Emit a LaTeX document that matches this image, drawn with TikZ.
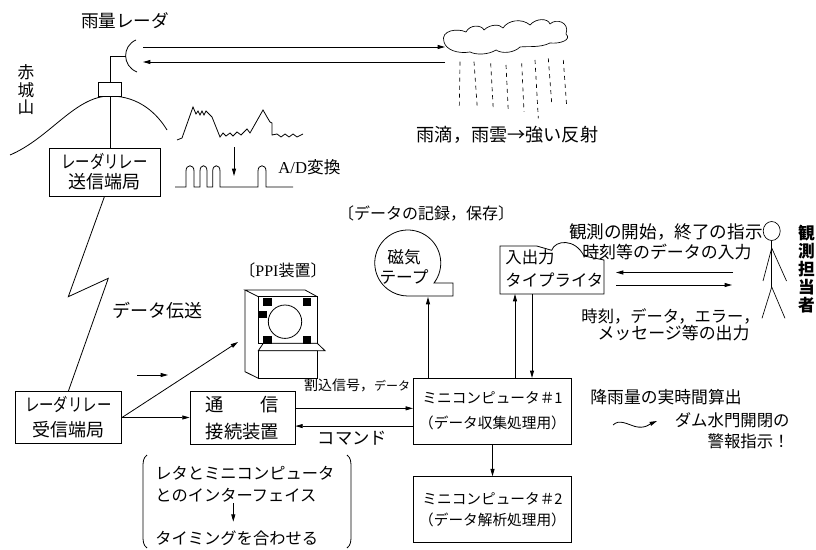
\documentclass[tikz,border=0pt]{standalone}
\usepackage{fontspec}
\usepackage{graphicx}
\setmainfont{Noto Sans CJK JP}
\newfontfamily\latin{Liberation Serif}
\usetikzlibrary{arrows.meta}
\newcommand\fsz[2]{\fontsize{#1pt}{#2pt}\selectfont}
\newcommand\narrow[1]{\scalebox{0.8}[1]{#1}}

\tikzset{
  every path/.style={line width=0.6pt},
  arr/.style={-{Triangle[length=5.5pt,width=3pt]}},
  box/.style={draw, line width=0.6pt, inner sep=0pt, align=center},
  lbl/.style={inner sep=0pt, align=center},
  lblw/.style={inner sep=0pt, anchor=west, align=left},
  lble/.style={inner sep=0pt, anchor=east, align=right},
  rain/.style={dash pattern=on 3pt off 3pt, line width=0.5pt},
  limb/.style={line width=0.5pt},
}

\begin{document}
\begin{tikzpicture}[x=0.75pt,y=-0.75pt]
\fill[white] (0,0) rectangle (816,549);
\useasboundingbox (0,0) rectangle (816,549);

% ---------- radar site on the mountain ----------
\node[lbl, font=\fsz{13.2}{14}] (radarlbl) at (125,21) {雨量レーダ};
\node[lbl, font=\fsz{12.5}{13.1}] (akagi) at (26,90) {赤\\城\\山};
\draw (10,155) .. controls (50,138) and (75,96) .. (110,96)
      .. controls (140,96) and (158,115) .. (167,130);
\node[draw, fill=white, minimum width=17.25pt, minimum height=10.5pt, inner sep=0pt] (rbox) at (110,89) {};
\coordinate (dish) at (125.6,56.5);
\draw (136,40) .. controls (122,46) and (122,66) .. (137,72);
\draw (rbox.north) |- (dish);

% beam to the cloud and echo back
\coordinate (beamA) at (143,47);
\coordinate (beamB) at (445,47);
\coordinate (echoA) at (445,62);
\coordinate (echoB) at (143,62);
\draw[arr] (beamA) -- (beamB);
\draw[arr] (echoA) -- (echoB);

% ---------- cloud and rain ----------
\draw[line width=0.5pt] (444,42) .. controls (440,30) and (458,28) .. (466,32)
  .. controls (470,24) and (482,25) .. (484,30)
  .. controls (490,24) and (500,24) .. (503,28)
  .. controls (508,20) and (522,18) .. (530,25)
  .. controls (536,18) and (548,18) .. (550,24)
  .. controls (556,18) and (570,22) .. (566,34)
  .. controls (572,40) and (560,44) .. (550,43)
  .. controls (540,48) and (528,46) .. (520,47)
  .. controls (514,53) and (502,54) .. (496,50)
  .. controls (488,55) and (476,55) .. (470,52)
  .. controls (458,54) and (446,50) .. (444,42) -- cycle;
\foreach \xa/\ya/\xb/\yb in {460/61.7/459.3/106.7, 474/61.7/477.3/108.3,
    490.7/63.3/493.3/110, 506/65/508.3/111.7, 521.7/63.3/524/111.7,
    535/60/538.3/118.3, 548.3/58.3/551.7/103.3, 563.3/60/566.7/106.7}
  \draw[rain] (\xa,\ya) -- (\xb,\yb);
\node[lbl, font=\fsz{13.6}{15}] (raintxt) at (507.5,135) {雨滴，雨雲→強い反射};

% ---------- transmitting relay station ----------
\node[box, minimum width=83.25pt, minimum height=36pt, font=\fsz{13.5}{15}] (tx) at (104.5,172)
  {\narrow{レーダリレー}\\送信端局};
\draw (rbox.south) -- (rbox.south |- tx.north);

% ---------- analog echo and A/D conversion ----------
\draw (177,140) -- (182,138) -- (193,107) -- (196,114) -- (198,111) -- (200,115)
  -- (202,111) -- (204,115) -- (206,111) -- (212,117) -- (220,137) -- (223,133)
  -- (226,136) -- (230,133) -- (233,136) -- (237,132) -- (241,135) -- (247,129)
  -- (250,133) -- (263,110) -- (267,117) -- (270,122) -- (272,123) -- (272,135)
  -- (277,134) -- (281,137) -- (285,134) -- (289,137) -- (293,134) -- (297,137)
  -- (303,134);
\coordinate (adtop) at (234,147);
\coordinate (adbot) at (234,176);
\draw[arr] (adtop) -- (adbot);
\draw (175,187) -- (186,187) -- (186,171) .. controls (186,164) and (194,164) .. (194,171)
  -- (194,187) -- (200,187) -- (200,171) .. controls (200,164) and (207,164) .. (207,171)
  -- (207,187) -- (212.7,187) -- (212.7,171) .. controls (212.7,164) and (220,164) .. (220,171)
  -- (220,187) -- (258,187) -- (258,171) .. controls (258,164) and (266,164) .. (266,171)
  -- (266,187) -- (293,187);
\node[lblw, font=\fsz{12.5}{14}] (adtxt) at (278,167) {{\latin A/D}変換};

% ---------- data transmission link ----------
\node[box, minimum width=80pt, minimum height=38.7pt, font=\fsz{13.5}{18.75}] (rx) at (68.3,417.5)
  {\narrow{レーダリレー}\\受信端局};
\coordinate (zz1) at (68.3,296.7);
\coordinate (zz2) at (108.3,278.3);
\draw (tx.south) -- (zz1) -- (zz2) -- (rx.north);
\node[lbl, font=\fsz{13.5}{15}] (linktxt) at (157,311) {データ伝送};
\coordinate (flowA) at (137,375);
\coordinate (flowB) at (168,375);
\draw[arr] (flowA) -- (flowB);

% ---------- PPI display ----------
\node[lbl, font=\fsz{12}{14}] (ppitxt) at (283,270) {〔{\latin PPI}装置〕};
\draw (258.3,296.7) -- (245,290) -- (305,290) -- (317.3,296.7);
\draw (245,290) -- (245,371.7) -- (258.3,378.3);
\draw (258.3,296.7) rectangle (317.3,343.3);
\draw (258.3,350.7) rectangle (317.3,378.3);
\draw[fill=white] (263.3,343.3) -- (317.3,343.3) -- (325,350.7) -- (258.3,350.7) -- cycle;
\draw (285,321.7) circle[radius=16.7];
\foreach \sx/\sy in {263.3/298.3, 302.7/298.3, 258.3/310.7, 263.3/336, 302.7/336}
  \fill (\sx,\sy) rectangle ++(8.4,7.5);
\coordinate (ppiin) at (238,342);
\draw[arr] (rx.east) -- (ppiin);

% ---------- interface unit and computers ----------
\node[box, minimum width=78.75pt, minimum height=39.2pt, font=\fsz{13.7}{20}] (comm) at (242.5,417.8)
  {通\hspace{2em}信\\接続装置};
\draw[arr] (rx.east) -- (rx.east -| comm.west);

\node[box, minimum width=118.8pt, minimum height=49.3pt, font=\fsz{11}{18.75}] (mc1) at (492.5,411.2)
  {ミニコンピュータ＃1\\（データ収集処理用）};
\node[box, minimum width=118.8pt, minimum height=49.5pt, font=\fsz{11}{16.3}] (mc2) at (492.5,509.7)
  {ミニコンピュータ＃2\\（データ解析処理用）};
\draw[arr] ([yshift=7.1pt]comm.east) -- ([yshift=7.1pt]comm.east -| mc1.west);
\draw[arr] ([yshift=-6.2pt]comm.east -| mc1.west) -- ([yshift=-6.2pt]comm.east);
\node[lbl, font=\fsz{10.5}{12}] (irqtxt) at (357,385) {割込信号，{\fsz{9}{10}データ}};
\node[lbl, font=\fsz{13}{14}] (cmdtxt) at (352.5,438.3) {コマンド};
\draw[arr] (mc1.south) -- (mc2.north);

% interface note in brackets
\draw (147,455) .. controls (143,458) and (143,462) .. (143,468) -- (143,535)
      .. controls (143,541) and (143,545) .. (147,548);
\draw (347,455) .. controls (351,458) and (351,462) .. (351,468) -- (351,535)
      .. controls (351,541) and (351,545) .. (347,548);
\node[lblw, font=\fsz{12.2}{14}] (note1) at (155,473.3) {レタとミニコンピュータ};
\node[lblw, font=\fsz{12.2}{14}] (note2) at (155,495) {とのインターフェイス};
\node[lblw, font=\fsz{12.2}{14}] (note3) at (155,538.3) {タイミングを合わせる};
\coordinate (noteA) at (233.3,503);
\coordinate (noteB) at (233.3,521.7);
\draw[arr] (noteA) -- (noteB);

% ---------- magnetic tape ----------
\node[lbl, font=\fsz{12}{13}] (rectxt) at (426,213) {〔データの記録，保存〕};
\draw (434,283) arc[start angle=37.3, end angle=-270, radius=33] -- (453,296) -- (453,283) -- cycle;
\node[lbl, font=\fsz{12.5}{15}] (tape) at (404,267) {磁気\\テープ};
\coordinate (tapein) at (428,297);
\draw[arr] (tapein |- mc1.north) -- (tapein);

% ---------- I/O typewriter ----------
\draw (500,246) -- (536.7,246) -- (551.7,250.3)
  .. controls (555,240) and (575,238) .. (584,256) -- (604,260) -- (604,294)
  -- (500,294) -- cycle;
\node[lblw, font=\fsz{12.3}{17.25}] (tw) at (505,268.5) {入出力\\タイプライタ};
\coordinate (twin) at (515,294);
\coordinate (twout) at (532,294);
\draw[arr] (twin |- mc1.north) -- (twin);
\draw[arr] (twout) -- (twout |- mc1.north);

% ---------- operator ----------
\draw[limb] (771.7,231) ellipse[x radius=8.5, y radius=9.5];
\draw[limb] (771.7,240.5) -- (771.7,287);
\draw[limb] (771.7,248) -- (763,281);
\draw[limb] (771.7,248) -- (786.5,281);
\draw[limb] (771.7,287) -- (762,318.3);
\draw[limb] (771.7,287) -- (785,318.3);
\node[lbl, font=\fsz{12.5}{13.5}\bfseries] (obs) at (806.5,269) {観\\測\\担\\当\\者};
\node[lble, font=\fsz{13.2}{14}] (op1) at (763,232) {観測の開始，終了の指示};
\node[lble, font=\fsz{12.7}{14}] (op2) at (752,252) {時刻等のデータの入力};
\node[lble, font=\fsz{12.2}{14}] (op3) at (760,316.7) {時刻，データ，エラー，};
\node[lble, font=\fsz{12.7}{14}] (op4) at (750,333.3) {メッセージ等の出力};
\coordinate (inA) at (733,272.5);
\coordinate (inB) at (616,272.5);
\coordinate (outA) at (616,285);
\coordinate (outB) at (732,285);
\draw[arr] (inA) -- (inB);
\draw[arr] (outA) -- (outB);

% ---------- real-time rainfall ----------
\node[lblw, font=\fsz{12.6}{14}] (rt1) at (590,396.7) {降雨量の実時間算出};
\node[lble, font=\fsz{12.3}{14}] (rt2) at (790,420) {ダム水門開閉の};
\node[lble, font=\fsz{12.3}{14}] (rt3) at (790,441.7) {警報指示！};
\coordinate (sqA) at (613,425);
\coordinate (sqB) at (657,421);
\draw[arr] (sqA) .. controls (619,419) and (627,424) .. (635,426.5)
  .. controls (645,429) and (650,424) .. (sqB);
\end{tikzpicture}
\end{document}
